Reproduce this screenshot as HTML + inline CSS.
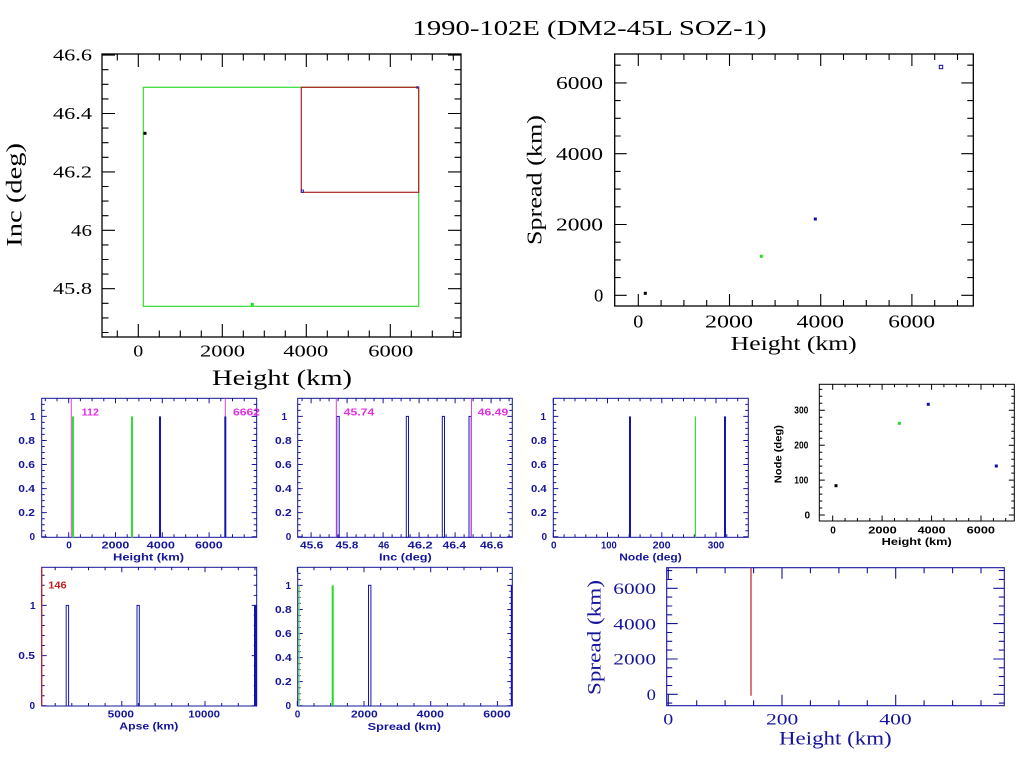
<!DOCTYPE html>
<html><head><meta charset="utf-8"><style>
html,body{margin:0;padding:0;background:#fff;}
svg{display:block;}
.s{font-family:"Liberation Serif",serif;}
.b{font-family:"Liberation Sans",sans-serif;font-weight:bold;font-size:10px;}
</style></head><body>
<svg width="1024" height="768" viewBox="0 0 1024 768" xmlns="http://www.w3.org/2000/svg">
<rect width="1024" height="768" fill="#fff"/>
<defs>
<path id="p1x" d="M138.3 0v-13M222.3 0v-13M306.3 0v-13M390.3 0v-13M117.3 0v-6.5M159.3 0v-6.5M180.3 0v-6.5M201.3 0v-6.5M243.3 0v-6.5M264.3 0v-6.5M285.3 0v-6.5M327.3 0v-6.5M348.3 0v-6.5M369.3 0v-6.5M411.3 0v-6.5M432.3 0v-6.5M453.3 0v-6.5"/>
<path id="p1y" d="M0 288.7h13M0 230.3h13M0 171.9h13M0 113.5h13M0 55.1h13M0 332.5h6.5M0 317.9h6.5M0 303.3h6.5M0 274.1h6.5M0 259.5h6.5M0 244.9h6.5M0 215.7h6.5M0 201.1h6.5M0 186.5h6.5M0 157.3h6.5M0 142.7h6.5M0 128.1h6.5M0 98.9h6.5M0 84.3h6.5M0 69.7h6.5"/>
<path id="p2x" d="M638.3 0v-12M729.5 0v-12M820.7 0v-12M911.9 0v-12M661.1 0v-6M683.9 0v-6M706.7 0v-6M752.3 0v-6M775.1 0v-6M797.9 0v-6M843.5 0v-6M866.3 0v-6M889.1 0v-6M934.7 0v-6M957.5 0v-6"/>
<path id="p2y" d="M0 295.3h12M0 224.5h12M0 153.7h12M0 82.9h12M0 277.6h6M0 259.9h6M0 242.2h6M0 206.8h6M0 189.1h6M0 171.4h6M0 136h6M0 118.3h6M0 100.6h6M0 65.2h6"/>
<path id="hy" d="M0 536.7h5M0 512.6h5M0 488.6h5M0 464.5h5M0 440.5h5M0 416.4h5M0 530.7h3M0 524.7h3M0 518.7h3M0 506.6h3M0 500.6h3M0 494.6h3M0 482.6h3M0 476.6h3M0 470.5h3M0 458.5h3M0 452.5h3M0 446.5h3M0 434.4h3M0 428.4h3M0 422.4h3M0 410.4h3M0 404.4h3"/>
<path id="ax" d="M68.7 0v-5M115.5 0v-5M162.3 0v-5M209.1 0v-5M45.3 0v-3M57 0v-3M80.4 0v-3M92.1 0v-3M103.8 0v-3M127.2 0v-3M138.9 0v-3M150.6 0v-3M174 0v-3M185.7 0v-3M197.4 0v-3M220.8 0v-3M232.5 0v-3M244.2 0v-3"/>
<path id="bx" d="M311.1 0v-5M347.1 0v-5M383.1 0v-5M419.1 0v-5M455.1 0v-5M491.1 0v-5M302.1 0v-3M320.1 0v-3M329.1 0v-3M338.1 0v-3M356.1 0v-3M365.1 0v-3M374.1 0v-3M392.1 0v-3M401.1 0v-3M410.1 0v-3M428.1 0v-3M437.1 0v-3M446.1 0v-3M464.1 0v-3M473.1 0v-3M482.1 0v-3M500.1 0v-3M509.1 0v-3"/>
<path id="cx" d="M553.3 0v-5M607.5 0v-5M661.8 0v-5M716 0v-5M564.1 0v-3M575 0v-3M585.8 0v-3M596.7 0v-3M618.4 0v-3M629.2 0v-3M640.1 0v-3M650.9 0v-3M672.6 0v-3M683.5 0v-3M694.3 0v-3M705.1 0v-3M726.8 0v-3M737.7 0v-3"/>
<path id="dx" d="M832.7 0v-5.5M882.1 0v-5.5M931.6 0v-5.5M981 0v-5.5M845.1 0v-3M857.4 0v-3M869.8 0v-3M894.5 0v-3M906.9 0v-3M919.2 0v-3M943.9 0v-3M956.3 0v-3M968.7 0v-3M993.4 0v-3M1005.7 0v-3"/>
<path id="dy" d="M0 515h5.5M0 480.1h5.5M0 445.2h5.5M0 410.3h5.5M0 508h3M0 501h3M0 494.1h3M0 487.1h3M0 473.1h3M0 466.1h3M0 459.2h3M0 452.2h3M0 438.2h3M0 431.2h3M0 424.3h3M0 417.3h3M0 403.3h3M0 396.3h3M0 389.4h3"/>
<path id="ex" d="M121.8 0v-5M205 0v-5M55.2 0v-3M71.8 0v-3M88.5 0v-3M105.1 0v-3M138.4 0v-3M155.1 0v-3M171.7 0v-3M188.4 0v-3M221.7 0v-3M238.3 0v-3M255 0v-3"/>
<path id="ey" d="M0 705.7h5M0 655.6h5M0 605.4h5M0 695.7h3M0 685.6h3M0 675.6h3M0 665.6h3M0 645.5h3M0 635.5h3M0 625.5h3M0 615.4h3M0 595.4h3M0 585.3h3M0 575.3h3"/>
<path id="fx" d="M297.3 0v-5M364 0v-5M430.7 0v-5M497.4 0v-5M314 0v-3M330.7 0v-3M347.4 0v-3M380.7 0v-3M397.4 0v-3M414 0v-3M447.4 0v-3M464 0v-3M480.7 0v-3"/>
<path id="gx" d="M668.3 0v-11M782 0v-11M895.7 0v-11M696.7 0v-5.5M725.1 0v-5.5M753.6 0v-5.5M810.4 0v-5.5M838.9 0v-5.5M867.3 0v-5.5M924.1 0v-5.5M952.6 0v-5.5M981 0v-5.5"/>
<path id="gy" d="M0 694.3h11M0 659h11M0 623.6h11M0 588.3h11M0 703.1h5.5M0 685.5h5.5M0 676.6h5.5M0 667.8h5.5M0 650.1h5.5M0 641.3h5.5M0 632.5h5.5M0 614.8h5.5M0 606h5.5M0 597.1h5.5M0 579.4h5.5M0 570.6h5.5"/>
</defs>

<!-- Title -->
<text class="s" x="412.5" y="35" font-size="21" textLength="354" lengthAdjust="spacingAndGlyphs">1990-102E (DM2-45L SOZ-1)</text>

<!-- ===== Plot 1: Inc vs Height ===== -->
<g fill="none" stroke="#000" stroke-width="1.1">
<rect x="102" y="54" width="359" height="283" stroke-width="1.3"/>
<use href="#p1x" transform="translate(0,337)"/>
<use href="#p1x" transform="translate(0,54) scale(1,-1)"/>
<use href="#p1y" transform="translate(102,0)"/>
<use href="#p1y" transform="translate(461,0) scale(-1,1)"/>
</g>
<g class="s" font-size="17" fill="#000">
<text x="53" y="60.7" textLength="39" lengthAdjust="spacingAndGlyphs">46.6</text>
<text x="53" y="119" textLength="39" lengthAdjust="spacingAndGlyphs">46.4</text>
<text x="53" y="177.4" textLength="39" lengthAdjust="spacingAndGlyphs">46.2</text>
<text x="71" y="235.8" textLength="21" lengthAdjust="spacingAndGlyphs">46</text>
<text x="53" y="294.2" textLength="39" lengthAdjust="spacingAndGlyphs">45.8</text>
<text x="133.3" y="356.7" textLength="10" lengthAdjust="spacingAndGlyphs">0</text>
<text x="200" y="356.7" textLength="45" lengthAdjust="spacingAndGlyphs">2000</text>
<text x="283.3" y="356.7" textLength="45" lengthAdjust="spacingAndGlyphs">4000</text>
<text x="368.3" y="356.7" textLength="45" lengthAdjust="spacingAndGlyphs">6000</text>
</g>
<text class="s" x="212" y="385" font-size="22" textLength="140" lengthAdjust="spacingAndGlyphs">Height (km)</text>
<text class="s" transform="translate(21.5,246.7) rotate(-90)" font-size="22.5" textLength="103.7" lengthAdjust="spacingAndGlyphs">Inc (deg)</text>
<rect x="143.3" y="87.3" width="275.4" height="219" fill="none" stroke="#33dd33" stroke-width="1.2"/>
<rect x="301.3" y="87.3" width="117.4" height="105" fill="none" stroke="#b02020" stroke-width="1.2"/>
<rect x="143.5" y="131.8" width="3" height="3" fill="#000"/>
<rect x="250.8" y="302.8" width="3" height="3" fill="#22dd22"/>
<rect x="301.3" y="190" width="2.2" height="2.2" fill="none" stroke="#1010b0" stroke-width="0.8"/>
<rect x="416.2" y="86.2" width="2.4" height="2.4" fill="#5020a0"/>

<!-- ===== Plot 2: Spread vs Height ===== -->
<g fill="none" stroke="#000" stroke-width="1.1">
<rect x="614.7" y="54" width="358.6" height="252" stroke-width="1.3"/>
<use href="#p2x" transform="translate(0,306)"/>
<use href="#p2x" transform="translate(0,54) scale(1,-1)"/>
<use href="#p2y" transform="translate(614.7,0)"/>
<use href="#p2y" transform="translate(973.3,0) scale(-1,1)"/>
</g>
<g class="s" font-size="18" fill="#000">
<text x="556" y="89" textLength="47" lengthAdjust="spacingAndGlyphs">6000</text>
<text x="556" y="159.8" textLength="47" lengthAdjust="spacingAndGlyphs">4000</text>
<text x="556" y="230.6" textLength="47" lengthAdjust="spacingAndGlyphs">2000</text>
<text x="594" y="301.4" textLength="9.3" lengthAdjust="spacingAndGlyphs">0</text>
<text x="633.3" y="327.3" textLength="10" lengthAdjust="spacingAndGlyphs">0</text>
<text x="705" y="327.3" textLength="48" lengthAdjust="spacingAndGlyphs">2000</text>
<text x="796.7" y="327.3" textLength="47.3" lengthAdjust="spacingAndGlyphs">4000</text>
<text x="888.3" y="327.3" textLength="46.7" lengthAdjust="spacingAndGlyphs">6000</text>
</g>
<text class="s" x="730.7" y="350" font-size="20" textLength="126" lengthAdjust="spacingAndGlyphs">Height (km)</text>
<text class="s" transform="translate(541.5,245) rotate(-90)" font-size="21" textLength="130" lengthAdjust="spacingAndGlyphs">Spread (km)</text>
<rect x="643.8" y="291.8" width="3" height="3" fill="#000"/>
<rect x="759.8" y="254.8" width="3" height="3" fill="#22dd22"/>
<rect x="813.8" y="217.5" width="3" height="3" fill="#1010a0"/>
<rect x="939.3" y="65.3" width="3.4" height="3.4" fill="none" stroke="#1010a0" stroke-width="1"/>

<!-- ===== Panel A: Height histogram ===== -->
<g fill="none" stroke="#14149c" stroke-width="1">
<rect x="41.7" y="398.3" width="215" height="139"/>
<use href="#ax" transform="translate(0,537.3)"/>
<use href="#ax" transform="translate(0,398.3) scale(1,-1)"/>
<use href="#hy" transform="translate(41.7,0)"/>
<use href="#hy" transform="translate(256.7,0) scale(-1,1)"/>
</g>
<line x1="71.3" y1="398.3" x2="71.3" y2="537.3" stroke="#e040e0" stroke-width="1"/>
<rect x="72" y="416.4" width="2" height="121" fill="#33dd33"/>
<rect x="131" y="416.4" width="2" height="121" fill="#33dd33"/>
<rect x="159" y="416.4" width="2" height="121" fill="#1414b0"/>
<rect x="224.3" y="416.4" width="2" height="121" fill="#1414b0"/>
<line x1="225.3" y1="398.3" x2="225.3" y2="416.4" stroke="#e040e0" stroke-width="1"/>
<g class="b" fill="#e030e0">
<text x="81.7" y="415.7" textLength="17.3" lengthAdjust="spacingAndGlyphs">112</text>
<text x="233" y="415.7" textLength="27" lengthAdjust="spacingAndGlyphs">6662</text>
</g>
<g class="b" fill="#14149c">
<text x="30" y="420">1</text>
<text x="18.3" y="444" textLength="16.7" lengthAdjust="spacingAndGlyphs">0.8</text>
<text x="18.3" y="468" textLength="16.7" lengthAdjust="spacingAndGlyphs">0.6</text>
<text x="18.3" y="492.1" textLength="16.7" lengthAdjust="spacingAndGlyphs">0.4</text>
<text x="18.3" y="516.1" textLength="16.7" lengthAdjust="spacingAndGlyphs">0.2</text>
<text x="29.5" y="540.2">0</text>
<text x="66.2" y="548.5">0</text>
<text x="101.7" y="548.5" textLength="27.6" lengthAdjust="spacingAndGlyphs">2000</text>
<text x="146.7" y="548.5" textLength="28.3" lengthAdjust="spacingAndGlyphs">4000</text>
<text x="195" y="548.5" textLength="27.7" lengthAdjust="spacingAndGlyphs">6000</text>
<text x="113" y="560.7" font-size="10.5" textLength="71" lengthAdjust="spacingAndGlyphs">Height (km)</text>
</g>

<!-- ===== Panel B: Inc histogram ===== -->
<g fill="none" stroke="#14149c" stroke-width="1">
<rect x="297.7" y="398.3" width="214.6" height="139"/>
<use href="#bx" transform="translate(0,537.3)"/>
<use href="#bx" transform="translate(0,398.3) scale(1,-1)"/>
<use href="#hy" transform="translate(297.7,0)"/>
<use href="#hy" transform="translate(512.3,0) scale(-1,1)"/>
</g>
<g fill="none" stroke="#1414b0" stroke-width="1">
<rect x="336.8" y="416.4" width="2.4" height="120.9"/>
<rect x="406.3" y="416.4" width="2.2" height="120.9"/>
<rect x="442.3" y="416.4" width="2.2" height="120.9"/>
<rect x="469" y="416.4" width="2.2" height="120.9"/>
</g>
<line x1="336.3" y1="398.3" x2="336.3" y2="537.3" stroke="#e040e0" stroke-width="1"/>
<line x1="471.5" y1="398.3" x2="471.5" y2="537.3" stroke="#e040e0" stroke-width="1"/>
<g class="b" fill="#e030e0">
<text x="343.7" y="415.7" textLength="30.6" lengthAdjust="spacingAndGlyphs">45.74</text>
<text x="477.7" y="415.7" textLength="30.6" lengthAdjust="spacingAndGlyphs">46.49</text>
</g>
<g class="b" fill="#14149c">
<text x="281.5" y="420">1</text>
<text x="275" y="444" textLength="16.7" lengthAdjust="spacingAndGlyphs">0.8</text>
<text x="275" y="468" textLength="16.7" lengthAdjust="spacingAndGlyphs">0.6</text>
<text x="275" y="492.1" textLength="16.7" lengthAdjust="spacingAndGlyphs">0.4</text>
<text x="275" y="516.1" textLength="16.7" lengthAdjust="spacingAndGlyphs">0.2</text>
<text x="285.7" y="540.2">0</text>
<text x="300" y="548.5" textLength="23.3" lengthAdjust="spacingAndGlyphs">45.6</text>
<text x="335.7" y="548.5" textLength="22.6" lengthAdjust="spacingAndGlyphs">45.8</text>
<text x="378.3" y="548.5" textLength="11" lengthAdjust="spacingAndGlyphs">46</text>
<text x="407.7" y="548.5" textLength="25" lengthAdjust="spacingAndGlyphs">46.2</text>
<text x="442.7" y="548.5" textLength="23.3" lengthAdjust="spacingAndGlyphs">46.4</text>
<text x="480" y="548.5" textLength="23.3" lengthAdjust="spacingAndGlyphs">46.6</text>
<text x="379" y="560.7" font-size="10.5" textLength="52.7" lengthAdjust="spacingAndGlyphs">Inc (deg)</text>
</g>

<!-- ===== Panel C: Node histogram ===== -->
<g fill="none" stroke="#14149c" stroke-width="1">
<rect x="553.3" y="398.3" width="195" height="139"/>
<use href="#cx" transform="translate(0,537.3)"/>
<use href="#cx" transform="translate(0,398.3) scale(1,-1)"/>
<use href="#hy" transform="translate(553.3,0)"/>
<use href="#hy" transform="translate(748.3,0) scale(-1,1)"/>
</g>
<rect x="629" y="416.4" width="2" height="121" fill="#1414b0"/>
<rect x="694.8" y="416.4" width="1.2" height="121" fill="#33dd33"/>
<rect x="724" y="416.4" width="2" height="121" fill="#1414b0"/>
<g class="b" fill="#14149c">
<text x="540.5" y="420">1</text>
<text x="531" y="444" textLength="15.7" lengthAdjust="spacingAndGlyphs">0.8</text>
<text x="531" y="468" textLength="15.7" lengthAdjust="spacingAndGlyphs">0.6</text>
<text x="531" y="492.1" textLength="15.7" lengthAdjust="spacingAndGlyphs">0.4</text>
<text x="531" y="516.1" textLength="15.7" lengthAdjust="spacingAndGlyphs">0.2</text>
<text x="541.5" y="540.2">0</text>
<text x="551" y="548.5">0</text>
<text x="601" y="548.5" textLength="15.7" lengthAdjust="spacingAndGlyphs">100</text>
<text x="652.7" y="548.5" textLength="18" lengthAdjust="spacingAndGlyphs">200</text>
<text x="707.7" y="548.5" textLength="16.6" lengthAdjust="spacingAndGlyphs">300</text>
<text x="619.3" y="560.7" font-size="10.5" textLength="62.4" lengthAdjust="spacingAndGlyphs">Node (deg)</text>
</g>

<!-- ===== Panel D: Node vs Height ===== -->
<g fill="none" stroke="#000" stroke-width="1">
<rect x="819.3" y="384.3" width="195" height="136.7"/>
<use href="#dx" transform="translate(0,521)"/>
<use href="#dx" transform="translate(0,384.3) scale(1,-1)"/>
<use href="#dy" transform="translate(819.3,0)"/>
<use href="#dy" transform="translate(1014.3,0) scale(-1,1)"/>
</g>
<g class="b" fill="#000">
<text x="794.3" y="413.6" textLength="14" lengthAdjust="spacingAndGlyphs">300</text>
<text x="794.3" y="448.5" textLength="14" lengthAdjust="spacingAndGlyphs">200</text>
<text x="794.3" y="483.4" textLength="14" lengthAdjust="spacingAndGlyphs">100</text>
<text x="804.5" y="518.5">0</text>
<text x="830.2" y="533.5">0</text>
<text x="868.3" y="533.5" textLength="28.4" lengthAdjust="spacingAndGlyphs">2000</text>
<text x="917.7" y="533.5" textLength="28" lengthAdjust="spacingAndGlyphs">4000</text>
<text x="966.7" y="533.5" textLength="28.3" lengthAdjust="spacingAndGlyphs">6000</text>
<text x="881.7" y="545" textLength="70" lengthAdjust="spacingAndGlyphs">Height (km)</text>
<text transform="translate(781.5,483.3) rotate(-90)" textLength="58.3" lengthAdjust="spacingAndGlyphs">Node (deg)</text>
</g>
<rect x="834.5" y="484.2" width="3" height="3" fill="#000"/>
<rect x="897.8" y="421.8" width="3" height="3" fill="#22dd22"/>
<rect x="926.8" y="402.8" width="3" height="3" fill="#1010a0"/>
<rect x="994.8" y="464.5" width="3" height="3" fill="#1010a0"/>

<!-- ===== Panel E: Apse histogram ===== -->
<g fill="none" stroke="#14149c" stroke-width="1">
<rect x="41.7" y="567.3" width="215" height="138.7"/>
<use href="#ex" transform="translate(0,706)"/>
<use href="#ex" transform="translate(0,567.3) scale(1,-1)"/>
<use href="#ey" transform="translate(41.7,0)"/>
<use href="#ey" transform="translate(256.7,0) scale(-1,1)"/>
</g>
<g fill="none" stroke="#1414b0" stroke-width="1">
<rect x="66.2" y="605.4" width="2.4" height="100.6"/>
<rect x="137" y="605.4" width="2.3" height="100.6"/>
</g>
<rect x="254" y="605.4" width="2.7" height="100.6" fill="#1414b0"/>
<line x1="41.7" y1="567.3" x2="41.7" y2="706" stroke="#c02020" stroke-width="1.2"/>
<text class="b" x="48.3" y="588.3" fill="#c02020" textLength="18.4" lengthAdjust="spacingAndGlyphs">146</text>
<g class="b" fill="#14149c">
<text x="30" y="609">1</text>
<text x="18.3" y="659.1" textLength="16.7" lengthAdjust="spacingAndGlyphs">0.5</text>
<text x="29.5" y="709.2">0</text>
<text x="107.7" y="717.3" textLength="26.3" lengthAdjust="spacingAndGlyphs">5000</text>
<text x="188.3" y="717.3" textLength="31.7" lengthAdjust="spacingAndGlyphs">10000</text>
<text x="119.3" y="729.5" font-size="10.5" textLength="59" lengthAdjust="spacingAndGlyphs">Apse (km)</text>
</g>

<!-- ===== Panel F: Spread histogram ===== -->
<g fill="none" stroke="#14149c" stroke-width="1">
<rect x="297.7" y="567.3" width="214.6" height="138.7"/>
<use href="#fx" transform="translate(0,706)"/>
<use href="#fx" transform="translate(0,567.3) scale(1,-1)"/>
<use href="#hy" transform="translate(297.7,169)"/>
<use href="#hy" transform="translate(512.3,169) scale(-1,1)"/>
</g>
<rect x="298.5" y="585.3" width="1.2" height="120.7" fill="#66dd66"/>
<rect x="331.7" y="585.3" width="2" height="120.7" fill="#22dd22"/>
<rect x="368.5" y="585.3" width="2.4" height="120.7" fill="none" stroke="#1414b0" stroke-width="1"/>
<rect x="510.8" y="585.3" width="1.8" height="120.7" fill="#1414b0"/>
<g class="b" fill="#14149c">
<text x="285.5" y="589">1</text>
<text x="275" y="613" textLength="16.7" lengthAdjust="spacingAndGlyphs">0.8</text>
<text x="275" y="637" textLength="16.7" lengthAdjust="spacingAndGlyphs">0.6</text>
<text x="275" y="661.1" textLength="16.7" lengthAdjust="spacingAndGlyphs">0.4</text>
<text x="275" y="685.1" textLength="16.7" lengthAdjust="spacingAndGlyphs">0.2</text>
<text x="285.5" y="709.2">0</text>
<text x="294.8" y="717.3">0</text>
<text x="351" y="717.3" textLength="26.7" lengthAdjust="spacingAndGlyphs">2000</text>
<text x="416.7" y="717.3" textLength="27.3" lengthAdjust="spacingAndGlyphs">4000</text>
<text x="483.3" y="717.3" textLength="27.4" lengthAdjust="spacingAndGlyphs">6000</text>
<text x="367.7" y="730" font-size="10.5" textLength="73.3" lengthAdjust="spacingAndGlyphs">Spread (km)</text>
</g>

<!-- ===== Panel G: Spread vs Height (zoom) ===== -->
<g fill="none" stroke="#14149c" stroke-width="1.1">
<rect x="666.7" y="567.7" width="337.6" height="138"/>
<use href="#gx" transform="translate(0,705.7)"/>
<use href="#gx" transform="translate(0,567.7) scale(1,-1)"/>
<use href="#gy" transform="translate(666.7,0)"/>
<use href="#gy" transform="translate(1004.3,0) scale(-1,1)"/>
</g>
<line x1="751" y1="567.7" x2="751" y2="695.7" stroke="#c02020" stroke-width="1.2"/>
<g class="s" font-size="16" fill="#14149c">
<text x="613.3" y="594" textLength="42.7" lengthAdjust="spacingAndGlyphs">6000</text>
<text x="613.3" y="629.3" textLength="42.7" lengthAdjust="spacingAndGlyphs">4000</text>
<text x="613.3" y="664.7" textLength="42.7" lengthAdjust="spacingAndGlyphs">2000</text>
<text x="646.7" y="699.8" textLength="9.3" lengthAdjust="spacingAndGlyphs">0</text>
<text x="663.3" y="724.3" textLength="10" lengthAdjust="spacingAndGlyphs">0</text>
<text x="766" y="724.3" textLength="32.3" lengthAdjust="spacingAndGlyphs">200</text>
<text x="879.3" y="724.3" textLength="32.4" lengthAdjust="spacingAndGlyphs">400</text>
</g>
<text class="s" x="779" y="744.3" font-size="19" fill="#14149c" textLength="112.7" lengthAdjust="spacingAndGlyphs">Height (km)</text>
<text class="s" transform="translate(600.5,695) rotate(-90)" font-size="19" fill="#14149c" textLength="115" lengthAdjust="spacingAndGlyphs">Spread (km)</text>
</svg>
</body></html>
